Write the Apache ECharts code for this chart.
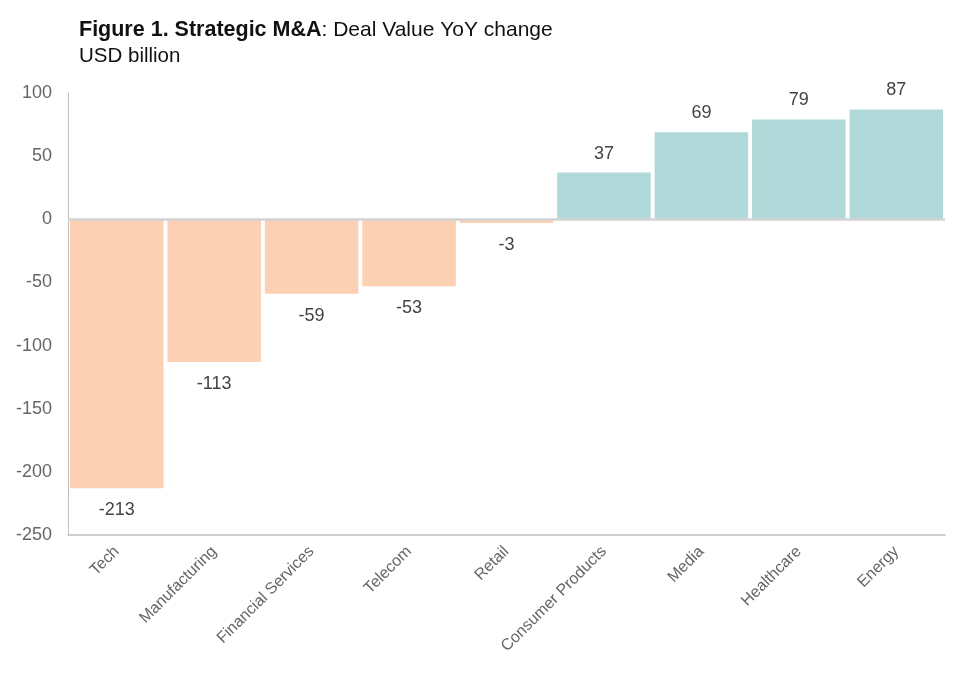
<!DOCTYPE html>
<html>
<head>
<meta charset="utf-8">
<script src="https://cdn.jsdelivr.net/npm/echarts@6/dist/echarts.min.js"></script>
<style>html,body{margin:0;padding:0;background:#fff;}#c{width:967px;height:675px;}</style>
</head>
<body>
<div id="c"></div>
<script>
const categories = ["Tech", "Manufacturing", "Financial Services", "Telecom", "Retail", "Consumer Products", "Media", "Healthcare", "Energy"];
const values = [-213, -113, -59, -53, -3, 37, 69, 79, 87];
const yTicks = [-250, -200, -150, -100, -50, 0, 50, 100];

const NEG = "#FCD0B3";
const POS = "#B2D9D9";
const FONT = "Liberation Sans";

const chart = echarts.init(document.getElementById('c'));
chart.setOption({
  animation: false,
  backgroundColor: "#fff",
  title: {
    left: 74, top: 12,
    text: "{b|Figure 1. Strategic M&A}{n|: Deal Value YoY change}\n{s|USD billion}",
    textStyle: {
      fontWeight: "normal",
      rich: {
        b: {fontFamily: FONT, fontSize: 21.5, fontWeight: "bold", color: "#111", lineHeight: 26},
        n: {fontFamily: FONT, fontSize: 21, fontWeight: "normal", color: "#111", lineHeight: 26},
        s: {fontFamily: FONT, fontSize: 20.5, fontWeight: "normal", color: "#111", lineHeight: 26}
      }
    }
  },
  grid: {left: 68, right: 22, top: 93, bottom: 140, containLabel: false},
  xAxis: {
    type: "category",
    data: categories,
    axisLine: {onZero: false, lineStyle: {color: "#bfbfbf", width: 1.5}},
    axisTick: {show: false},
    axisLabel: {rotate: 45, interval: 0, fontFamily: FONT, fontSize: 16, color: "#666", margin: 14}
  },
  yAxis: {
    type: "value",
    min: yTicks[0], max: yTicks[yTicks.length - 1], interval: 50,
    axisLine: {show: true, lineStyle: {color: "#bfbfbf", width: 1}},
    axisTick: {show: false},
    splitLine: {show: false},
    axisLabel: {fontFamily: FONT, fontSize: 18, color: "#666", margin: 16}
  },
  series: [{
    type: "bar",
    data: values.map(v => ({value: v, itemStyle: {color: v < 0 ? NEG : POS},
      label: {position: v < 0 ? "bottom" : "top", distance: v < 0 ? 13 : 10}})),
    barCategoryGap: "4%",
    label: {show: true, fontFamily: FONT, fontSize: 18, color: "#444"},
    markLine: {
      silent: true, symbol: "none", label: {show: false},
      lineStyle: {color: "#d3d3d3", width: 2.5, type: "solid"},
      data: [{yAxis: 0}]
    }
  }]
});
</script>
</body>
</html>
